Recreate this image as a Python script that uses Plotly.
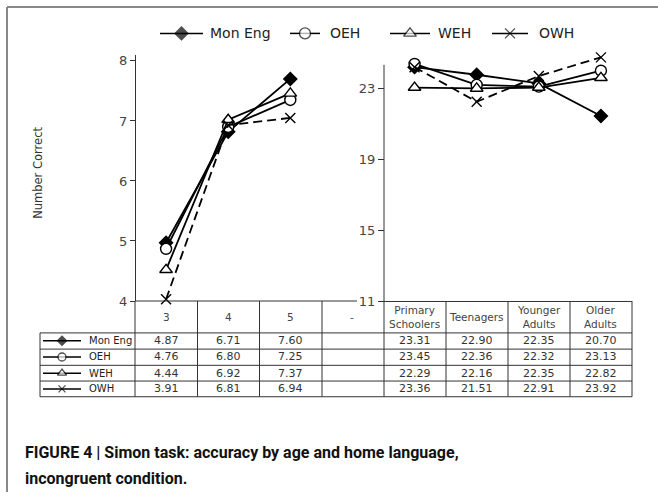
import plotly.graph_objects as go

W, H = 658, 500

# x categories (one shared axis: ages left, age groups right)
categories = ["3", "4", "5", "-", "Primary<br>Schoolers", "Teenagers",
              "Younger<br>Adults", "Older<br>Adults"]
ages = ["3", "4", "5"]
groups = ["Primary<br>Schoolers", "Teenagers", "Younger<br>Adults", "Older<br>Adults"]

series = ["Mon Eng", "OEH", "WEH", "OWH"]

# values as plotted
child_vals = {
    "Mon Eng": [4.97, 6.82, 7.70],
    "OEH": [4.87, 6.90, 7.35],
    "WEH": [4.52, 7.02, 7.46],
    "OWH": [4.03, 6.93, 7.05],
}
group_vals = {
    "Mon Eng": [24.2, 23.77, 23.28, 21.45],
    "OEH": [24.38, 23.2, 23.1, 24.0],
    "WEH": [23.05, 23.0, 23.05, 23.6],
    "OWH": [24.2, 22.25, 23.7, 24.75],
}

# values printed in the data table
table_rows = {
    "Mon Eng": ["4.87", "6.71", "7.60", "", "23.31", "22.90", "22.35", "20.70"],
    "OEH": ["4.76", "6.80", "7.25", "", "23.45", "22.36", "22.32", "23.13"],
    "WEH": ["4.44", "6.92", "7.37", "", "22.29", "22.16", "22.35", "22.82"],
    "OWH": ["3.91", "6.81", "6.94", "", "23.36", "21.51", "22.91", "23.92"],
}

left_ticks = [4, 5, 6, 7, 8]
right_ticks = [11, 15, 19, 23]

caption = ("<b>FIGURE 4 | Simon task: accuracy by age and home language,</b>",
           "<b>incongruent condition.</b>")

style = {
    "Mon Eng": dict(symbol="diamond", fill="black", dash="solid", size=10),
    "OEH": dict(symbol="circle", fill="white", dash="solid", size=11),
    "WEH": dict(symbol="triangle-up", fill="white", dash="solid", size=11),
    "OWH": dict(symbol="x-thin-open", fill="black", dash="9px,5px", size=10),
}

INK = "#222"
FONT = "DejaVu Sans"


def px(x):
    return x / W


def py(y):
    return 1 - y / H


def idx(cats):
    return [categories.index(c) for c in cats]


fig = go.Figure()

for name in series:
    st = style[name]
    marker = dict(symbol=st["symbol"], size=st["size"], color=st["fill"],
                  line=dict(color="black", width=1.4))
    line = dict(color="black", width=1.8, dash=st["dash"])
    fig.add_trace(go.Scatter(x=idx(ages), y=child_vals[name], mode="lines+markers",
                             marker=marker, line=line, cliponaxis=False,
                             xaxis="x", yaxis="y", showlegend=False))
    fig.add_trace(go.Scatter(x=idx(groups), y=group_vals[name], mode="lines+markers",
                             marker=marker, line=line, cliponaxis=False,
                             xaxis="x", yaxis="y2", showlegend=False))

# legend glyphs (top legend + table row keys) on a pixel overlay axis
top_legend = {"Mon Eng": (160, 203, 208), "OEH": (290, 320, 328),
              "WEH": (390, 430, 436), "OWH": (492, 528, 537)}
row_y = [346, 362.5, 379, 395]
anns = []
for i, name in enumerate(series):
    st = style[name]
    for (x0, x1, tx, yy, sz, fs) in [
        (*top_legend[name], 33, st["size"], 14),
        (43, 81, 87, row_y[i], st["size"] - 3, 10),
    ]:
        fig.add_trace(go.Scatter(
            x=[x0, (x0 + x1) / 2, x1], y=[yy, yy, yy], mode="lines+markers",
            line=dict(color="black", width=1.5),
            marker=dict(symbol=st["symbol"], size=[0, sz, 0], color=st["fill"],
                        line=dict(color="black", width=1.3)),
            xaxis="x3", yaxis="y3", showlegend=False, cliponaxis=False, hoverinfo="skip"))
        anns.append(dict(x=px(tx), y=py(yy), xref="paper", yref="paper", text=name,
                         showarrow=False, xanchor="left", yanchor="middle",
                         font=dict(family=FONT, size=fs, color=INK)))

# table header labels and cells
for j, cat in enumerate(categories):
    anns.append(dict(x=j, y=py(322), xref="x", yref="paper", text=cat, showarrow=False,
                     xanchor="center", yanchor="middle",
                     font=dict(family=FONT, size=10.5, color="#444")))
    for i, name in enumerate(series):
        if table_rows[name][j]:
            anns.append(dict(x=j, y=py(row_y[i]), xref="x", yref="paper",
                             text=table_rows[name][j], showarrow=False,
                             xanchor="center", yanchor="middle",
                             font=dict(family=FONT, size=11, color="#333")))

anns.append(dict(x=px(38), y=py(175), xref="paper", yref="paper", text="Number Correct",
                 textangle=-90, showarrow=False, xanchor="center", yanchor="middle",
                 font=dict(family=FONT, size=11.5, color="#333")))
for k, line_y in enumerate([460, 486]):
    anns.append(dict(x=px(23), y=py(line_y), xref="paper", yref="paper", text=caption[k],
                     showarrow=False, xanchor="left", yanchor="middle",
                     font=dict(family="Roboto", size=16, color="#111")))

# table grid + frame
shapes = []


def hline(y, x0, x1, color="#333", width=1):
    shapes.append(dict(type="line", xref="paper", yref="paper", x0=px(x0), x1=px(x1),
                       y0=py(y), y1=py(y), line=dict(color=color, width=width)))


def vline(x, y0, y1, color="#333", width=1):
    shapes.append(dict(type="line", xref="paper", yref="paper", x0=px(x), x1=px(x),
                       y0=py(y0), y1=py(y1), line=dict(color=color, width=width)))


hline(305.5, 135, 357)
hline(306, 384, 632)
vline(384, 65, 306)  # right panel axis line (stops below the top points)
for y in [338, 354.5, 371, 387, 403]:
    hline(y, 40, 632)
col_edges = [135, 197.5, 259.5, 322, 384, 446, 508, 570, 632]
for x in col_edges:
    vline(x, 305.5, 403)
vline(40, 338, 403)
hline(6, 7, 658, color="#888", width=2)
vline(7, 6, 500, color="#888", width=2)

R2_TOP = 25.3
axis_font = dict(family=FONT, size=13, color="#444")
fig.update_layout(
    width=W, height=H, autosize=False,
    margin=dict(l=0, r=0, t=0, b=0),
    paper_bgcolor="white", plot_bgcolor="rgba(0,0,0,0)",
    xaxis=dict(domain=[px(135), px(632)], range=[-0.5, 7.5], visible=False,
               anchor="y"),
    yaxis=dict(domain=[py(305.5), py(55)], range=[4, 4 + 250 / 61],
               tickvals=left_ticks, anchor="free", position=px(135),
               showline=True, linecolor="#333", linewidth=1, ticks="outside",
               ticklen=5, tickcolor="#333", tickfont=axis_font, showgrid=False,
               zeroline=False),
    yaxis2=dict(domain=[py(306), py(306 - (R2_TOP - 11) * 18.08)], range=[11, R2_TOP],
                tickvals=right_ticks, anchor="free", position=px(384), side="left",
                showline=False, ticks="outside",
                ticklen=6, tickcolor="#333", tickfont=axis_font, showgrid=False,
                zeroline=False),
    xaxis3=dict(domain=[0, 1], range=[0, W], visible=False, anchor="y3"),
    yaxis3=dict(domain=[0, 1], range=[H, 0], visible=False, anchor="x3"),
    annotations=anns,
    shapes=shapes,
    showlegend=False,
)

fig.write_html("out.html", config={"displayModeBar": False},
               post_script="document.body.style.margin='0';")
